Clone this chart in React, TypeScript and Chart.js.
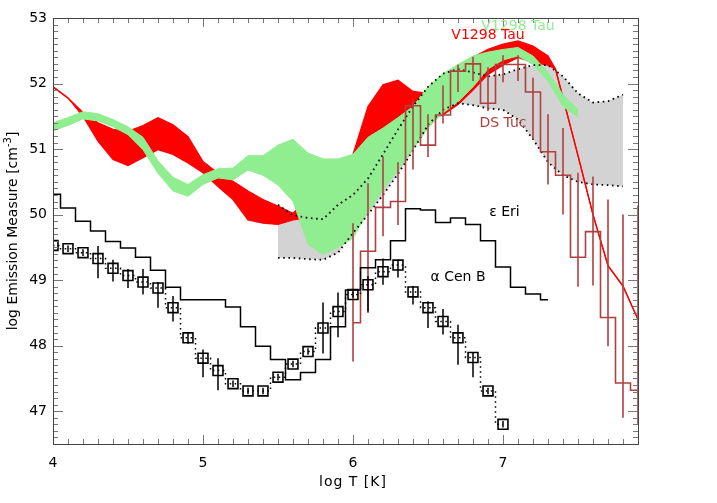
import React, { useEffect, useRef } from "react";
import { Chart, registerables } from "chart.js";
Chart.register(...registerables);

// ---------- data (log T, log EM) ----------
const epsEriT = [4.0, 4.1, 4.2, 4.3, 4.4, 4.5, 4.6, 4.7, 4.8, 4.9, 5.0, 5.1, 5.2, 5.3, 5.4, 5.5, 5.6, 5.7, 5.8, 5.9, 6.0, 6.1, 6.2, 6.3, 6.4, 6.5, 6.6, 6.7, 6.8, 6.9, 7.0, 7.1, 7.2, 7.3];
const epsEriEM = [50.31, 50.10, 49.90, 49.75, 49.59, 49.49, 49.35, 49.15, 48.89, 48.70, 48.70, 48.70, 48.59, 48.29, 47.99, 47.79, 47.48, 47.59, 47.79, 48.29, 48.85, 49.19, 49.31, 49.60, 50.09, 50.07, 49.88, 49.95, 49.85, 49.60, 49.20, 48.89, 48.79, 48.70];

const aCenT = [4.0, 4.1, 4.2, 4.3, 4.4, 4.5, 4.6, 4.7, 4.8, 4.9, 5.0, 5.1, 5.2, 5.3, 5.4, 5.5, 5.6, 5.7, 5.8, 5.9, 6.0, 6.1, 6.2, 6.3, 6.4, 6.5, 6.6, 6.7, 6.8, 6.9, 7.0];
const aCenEM = [49.53, 49.48, 49.42, 49.33, 49.18, 49.07, 48.97, 48.88, 48.58, 48.12, 47.81, 47.62, 47.42, 47.31, 47.31, 47.52, 47.72, 47.91, 48.27, 48.52, 48.78, 48.93, 49.13, 49.23, 48.82, 48.58, 48.37, 48.12, 47.82, 47.31, 46.80];
const aCenHi = [49.58, 49.53, 49.47, 49.52, 49.31, 49.17, 49.17, 48.97, 48.76, 48.19, 47.94, 47.81, 47.47, 47.36, 47.36, 47.57, 47.77, 47.96, 48.66, 48.81, 48.83, 49.06, 49.33, 49.31, 48.91, 48.68, 48.56, 48.32, 47.90, 47.36, 46.85];
const aCenLo = [49.48, 49.43, 49.37, 49.03, 48.98, 48.88, 48.78, 48.58, 48.37, 48.03, 47.52, 47.32, 47.37, 47.26, 47.26, 47.47, 47.67, 47.86, 47.88, 48.13, 48.73, 48.52, 48.93, 49.04, 48.63, 48.27, 48.17, 47.71, 47.52, 47.26, 46.75];

const dsTucT = [6.0, 6.1, 6.2, 6.3, 6.4, 6.5, 6.6, 6.7, 6.8, 6.9, 7.0, 7.1, 7.2, 7.3, 7.4, 7.5, 7.6, 7.7, 7.8, 7.9];
const dsTucEM = [48.35, 49.44, 50.11, 50.20, 51.66, 51.06, 51.52, 52.19, 52.30, 51.70, 52.29, 52.29, 51.87, 50.96, 50.60, 49.35, 49.74, 48.43, 47.43, 47.32];
const dsTucHi = [49.87, 50.48, 50.89, 50.80, 51.76, 51.53, 51.97, 52.29, 52.41, 52.25, 52.43, 52.43, 52.09, 51.53, 51.32, 50.64, 50.58, 50.23, 50.00, 50.14];
const dsTucLo = [47.76, 48.50, 49.67, 49.84, 50.69, 50.88, 51.39, 51.87, 52.04, 51.58, 52.02, 52.04, 51.15, 50.46, 50.00, 48.90, 48.92, 47.99, 46.90, 46.79];

const dsBandT = [5.5, 5.6, 5.7, 5.8, 5.9, 6.0, 6.1, 6.2, 6.3, 6.4, 6.5, 6.6, 6.7, 6.8, 6.9, 7.0, 7.1, 7.2, 7.3, 7.4, 7.5, 7.6, 7.7, 7.8];
const dsBandHi = [50.15, 49.99, 49.95, 49.93, 50.15, 50.30, 50.55, 50.92, 51.30, 51.65, 51.95, 52.15, 52.22, 52.17, 52.11, 52.14, 52.22, 52.28, 52.28, 52.11, 51.85, 51.71, 51.73, 51.83];
const dsBandLo = [49.34, 49.34, 49.32, 49.31, 49.42, 49.72, 50.00, 50.30, 50.62, 50.98, 51.37, 51.60, 51.70, 51.67, 51.62, 51.60, 51.45, 51.15, 50.80, 50.60, 50.50, 50.46, 50.45, 50.43];

const v1298RedT = [4.0, 4.1, 4.2, 4.3, 4.4, 4.5, 4.6, 4.7, 4.8, 4.9, 5.0, 5.1, 5.2, 5.3, 5.4, 5.5, 5.6, 5.7, 5.8, 5.9, 6.0, 6.1, 6.2, 6.3, 6.4, 6.5, 6.6, 6.7, 6.8, 6.9, 7.0, 7.1, 7.2, 7.3, 7.35, 7.5, 7.6, 7.7, 7.8, 7.9];
const v1298RedHi = [51.95, 51.78, 51.56, 51.40, 51.30, 51.27, 51.36, 51.48, 51.37, 51.19, 50.81, 50.63, 50.51, 50.36, 50.23, 50.13, 50.02, 50.25, 50.45, 50.65, 50.92, 51.65, 51.98, 52.05, 51.88, 51.85, 52.00, 52.20, 52.40, 52.52, 52.60, 52.65, 52.57, 52.42, 52.22, 50.90, 50.00, 49.22, 48.91, 48.40];
const v1298RedLo = [51.95, 51.78, 51.50, 51.12, 50.84, 50.75, 50.87, 50.99, 50.92, 50.79, 50.64, 50.43, 50.23, 49.92, 49.87, 49.85, 49.92, 49.95, 50.10, 50.35, 50.60, 51.10, 51.30, 51.45, 51.50, 51.45, 51.52, 51.68, 51.90, 52.14, 52.28, 52.40, 52.32, 52.28, 52.22, 50.90, 50.00, 49.22, 48.91, 48.40];

const v1298GreenT = [4.0, 4.1, 4.2, 4.3, 4.4, 4.5, 4.6, 4.7, 4.8, 4.9, 5.0, 5.1, 5.2, 5.3, 5.4, 5.5, 5.6, 5.7, 5.8, 5.9, 6.0, 6.1, 6.2, 6.3, 6.4, 6.5, 6.6, 6.7, 6.8, 6.9, 7.0, 7.1, 7.2, 7.3, 7.4, 7.5];
const v1298GreenHi = [51.40, 51.48, 51.57, 51.54, 51.45, 51.34, 51.18, 50.82, 50.57, 50.46, 50.61, 50.70, 50.71, 50.90, 50.90, 51.06, 51.15, 50.94, 50.85, 50.85, 50.92, 51.18, 51.32, 51.48, 51.65, 51.95, 52.15, 52.29, 52.42, 52.48, 52.52, 52.55, 52.42, 52.17, 51.83, 51.60];
const v1298GreenLo = [51.28, 51.36, 51.46, 51.43, 51.34, 51.22, 50.99, 50.63, 50.36, 50.28, 50.46, 50.56, 50.53, 50.68, 50.60, 50.45, 50.20, 49.55, 49.39, 49.50, 49.64, 50.05, 50.38, 50.68, 51.00, 51.32, 51.55, 51.72, 51.95, 52.22, 52.36, 52.42, 52.29, 52.04, 51.65, 51.49];

const xTickValues = [4, 5, 6, 7];
const xTickLabels = ["4", "5", "6", "7"];
const yTickValues = [47, 48, 49, 50, 51, 52, 53];
const yTickLabels = ["47", "48", "49", "50", "51", "52", "53"];

const X_MIN = 4, X_MAX = 7.9, Y_MIN = 46.5, Y_MAX = 53;

const BROWN = "#b04040";
const RED = "#ff0000";
const GREEN = "#90ee90";
const GRAY = "#d3d3d3";
const FONT = '14px "DejaVu Sans", sans-serif';

const annotations = [
  { text: "V1298 Tau", x: 7.1, y: 52.87, color: GREEN },
  { text: "V1298 Tau", x: 6.9, y: 52.73, color: RED },
  { text: "DS Tuc", x: 7.0, y: 51.39, color: BROWN },
  { text: "\u03b5 Eri", x: 7.01, y: 50.04, color: "#000" },
  { text: "\u03b1 Cen B", x: 6.7, y: 49.05, color: "#000" },
];

function pts(xs: number[], ys: number[]) {
  return xs.map((x, i) => ({ x, y: ys[i] }));
}
function errPts(xs: number[], lo: number[], hi: number[]) {
  const out: { x: number; y: number | null }[] = [];
  xs.forEach((x, i) => {
    out.push({ x, y: lo[i] }, { x, y: hi[i] }, { x, y: null });
  });
  return out;
}

const framePlugin = {
  id: "idlFrame",
  afterDatasetsDraw(chart: any) {
    const { ctx, chartArea: a, scales } = chart;
    const xs = scales.x, ys = scales.y;
    ctx.save();
    ctx.strokeStyle = "#777";
    ctx.lineWidth = 1;
    ctx.beginPath();
    const nx = Math.round((X_MAX - X_MIN) * 10);
    for (let i = 0; i <= nx; i++) {
      const v = X_MIN + i / 10;
      const px = Math.round(xs.getPixelForValue(v)) + 0.5;
      const major = Math.abs(v - Math.round(v)) < 1e-6;
      const len = major ? 9 : 5;
      ctx.moveTo(px, a.bottom);
      ctx.lineTo(px, a.bottom - len);
      ctx.moveTo(px, a.top);
      ctx.lineTo(px, a.top + len);
    }
    const ny = Math.round((Y_MAX - Y_MIN) * 10);
    for (let i = 0; i <= ny; i++) {
      const v = Y_MIN + i / 10;
      const py = Math.round(ys.getPixelForValue(v)) + 0.5;
      const major = Math.abs(v - Math.round(v)) < 1e-6;
      const len = major ? 10 : 5;
      ctx.moveTo(a.left, py);
      ctx.lineTo(a.left + len, py);
      ctx.moveTo(a.right, py);
      ctx.lineTo(a.right - len, py);
    }
    ctx.stroke();
    ctx.strokeStyle = "#444";
    ctx.strokeRect(Math.round(a.left) + 0.5, Math.round(a.top) + 0.5, Math.round(a.right - a.left), Math.round(a.bottom - a.top));

    ctx.fillStyle = "#000";
    ctx.font = FONT;
    ctx.textAlign = "center";
    ctx.textBaseline = "middle";
    xTickValues.forEach((v, i) => {
      ctx.fillText(xTickLabels[i], xs.getPixelForValue(v), a.bottom + 19);
    });
    ctx.textAlign = "right";
    yTickValues.forEach((v, i) => {
      ctx.fillText(yTickLabels[i], a.left - 6, ys.getPixelForValue(v));
    });

    ctx.textAlign = "center";
    try { (ctx as any).letterSpacing = "1px"; } catch (e) {}
    ctx.fillText("log T [K]", 353, a.bottom + 38);
    try { (ctx as any).letterSpacing = "0px"; } catch (e) {}

    ctx.save();
    ctx.translate(13, (a.top + a.bottom) / 2);
    ctx.rotate(-Math.PI / 2);
    const p1 = "log Emission Measure [cm";
    const p2 = "-3";
    const p3 = "]";
    ctx.font = FONT;
    const w1 = ctx.measureText(p1).width;
    const w3 = ctx.measureText(p3).width;
    ctx.font = '10px "DejaVu Sans", sans-serif';
    const w2 = ctx.measureText(p2).width;
    const total = w1 + w2 + w3;
    let cx = -total / 2;
    ctx.textAlign = "left";
    ctx.font = FONT;
    ctx.fillText(p1, cx, 0);
    cx += w1;
    ctx.font = '10px "DejaVu Sans", sans-serif';
    ctx.fillText(p2, cx, -5);
    cx += w2;
    ctx.font = FONT;
    ctx.fillText(p3, cx, 0);
    ctx.restore();

    ctx.textAlign = "center";
    ctx.font = FONT;
    annotations.forEach((an) => {
      ctx.fillStyle = an.color;
      ctx.fillText(an.text, xs.getPixelForValue(an.x), ys.getPixelForValue(an.y));
    });
    ctx.restore();
  },
};

export default function App() {
  const ref = useRef<HTMLCanvasElement | null>(null);
  useEffect(() => {
    if (!ref.current) return;
    const noPt = { pointRadius: 0, pointHoverRadius: 0 };
    const chart = new Chart(ref.current, {
      type: "line",
      data: {
        datasets: [
          { data: pts(dsBandT, dsBandHi), fill: "+1", backgroundColor: GRAY, borderWidth: 0, order: 20, ...noPt },
          { data: pts(dsBandT, dsBandLo), fill: false, borderWidth: 0, order: 20, ...noPt },
          { data: pts(v1298RedT, v1298RedHi), fill: "+1", backgroundColor: RED, borderColor: RED, borderWidth: 1.3, order: 18, ...noPt },
          { data: pts(v1298RedT, v1298RedLo), fill: false, borderColor: RED, borderWidth: 1.3, order: 18, ...noPt },
          { data: pts(v1298GreenT, v1298GreenHi), fill: "+1", backgroundColor: GREEN, borderColor: GREEN, borderWidth: 1, order: 16, ...noPt },
          { data: pts(v1298GreenT, v1298GreenLo), fill: false, borderColor: GREEN, borderWidth: 1, order: 16, ...noPt },
          { data: pts(dsBandT, dsBandHi), fill: false, borderColor: "#000", borderWidth: 1.8, borderDash: [1.6, 3.6], order: 14, ...noPt },
          { data: pts(dsBandT, dsBandLo), fill: false, borderColor: "#000", borderWidth: 1.8, borderDash: [1.6, 3.6], order: 14, ...noPt },
          { data: errPts(dsTucT, dsTucLo, dsTucHi), fill: false, borderColor: BROWN, borderWidth: 1.6, spanGaps: false, order: 12, ...noPt },
          { data: pts(dsTucT, dsTucEM), fill: false, borderColor: BROWN, borderWidth: 1.6, stepped: "middle", order: 12, ...noPt },
          { data: pts(epsEriT, epsEriEM), fill: false, borderColor: "#000", borderWidth: 1.5, stepped: "middle", order: 10, ...noPt },
          { data: errPts(aCenT, aCenLo, aCenHi), fill: false, borderColor: "#000", borderWidth: 1.5, spanGaps: false, order: 8, ...noPt },
          {
            data: pts(aCenT, aCenEM),
            fill: false,
            borderColor: "#000",
            borderWidth: 1.5,
            borderDash: [1.5, 3.5],
            stepped: "middle",
            pointStyle: "rect",
            pointRadius: 7,
            pointHoverRadius: 7,
            pointBorderColor: "#000",
            pointBackgroundColor: "rgba(0,0,0,0)",
            pointBorderWidth: 1.6,
            order: 6,
          },
        ] as any,
      },
      options: {
        responsive: false,
        animation: false,
        events: [],
        layout: { padding: { left: 53, top: 18, right: 79, bottom: 59 } },
        plugins: { legend: { display: false }, tooltip: { enabled: false } },
        scales: {
          x: { type: "linear", min: X_MIN, max: X_MAX, display: false },
          y: { type: "linear", min: Y_MIN, max: Y_MAX, display: false },
        },
        elements: { line: { tension: 0 } },
      },
      plugins: [framePlugin],
    });
    return () => chart.destroy();
  }, []);
  return (
    <canvas
      ref={ref}
      width={717}
      height={503}
      style={{ position: "absolute", left: 0, top: 0, width: 717, height: 503 }}
    />
  );
}
